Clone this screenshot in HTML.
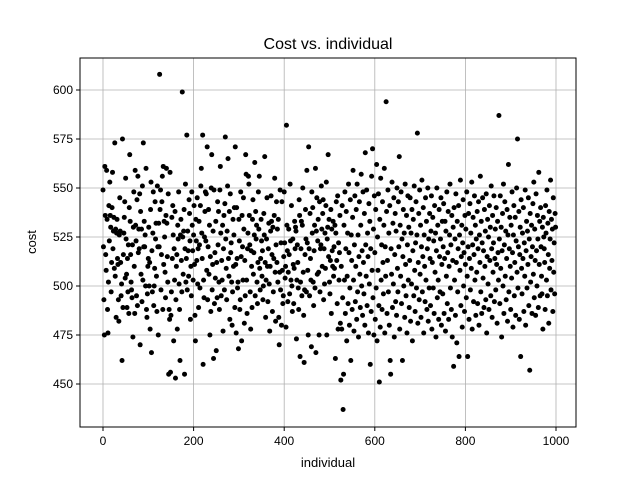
<!DOCTYPE html>
<html><head><meta charset="utf-8"><style>
html,body{margin:0;padding:0;background:#fff;}
svg{display:block;font-family:"Liberation Sans","DejaVu Sans",sans-serif;}
</style></head><body>
<svg id="chart" width="640" height="480" viewBox="0 0 640 480">
<rect width="640" height="480" fill="#fff"/>
<g id="grid"></g>
<g id="pts"></g>
<rect x="80" y="58" width="496" height="369" fill="none" stroke="#000" stroke-width="1"/>
<g id="axes"></g>
<text x="328" y="49" text-anchor="middle" font-size="16">Cost vs. individual</text>
<text x="328" y="467" text-anchor="middle" font-size="13">individual</text>
<text x="36" y="242" text-anchor="middle" font-size="13" transform="rotate(-90 36 242)">cost</text>
</svg>
<script>
const xTicks=[0,200,400,600,800,1000];
const yTicks=[450,475,500,525,550,575,600];
const costs=[
549,520,493,475,561,536,516,508,559,534,488,476,502,541,523,553,536,530,497,512,540,558,519,528,535,
509,573,505,529,484,527,534,514,511,493,482,526,545,528,512,495,501,462,575,489,516,527,535,543,504,
555,524,506,489,514,497,521,486,540,567,533,516,502,498,494,521,474,530,548,510,486,559,531,523,495,
544,490,556,517,529,519,547,470,538,506,529,492,551,503,573,520,533,520,526,500,560,488,484,496,510,
514,530,500,512,478,539,553,466,518,497,527,548,490,500,509,543,524,532,505,487,551,520,475,532,520,
608,539,549,498,516,543,556,488,561,511,533,525,507,494,536,560,532,515,502,547,455,488,483,558,456,
485,497,535,514,541,526,472,519,503,538,453,493,510,516,478,531,524,548,501,488,462,526,534,513,497,
599,525,506,528,539,455,519,552,502,514,577,498,528,518,505,544,537,523,483,510,495,548,531,518,503,
526,541,511,485,472,534,523,513,545,501,519,489,533,521,499,541,551,560,527,514,577,460,503,494,525,
538,548,523,547,508,571,493,520,539,506,531,475,515,487,550,567,498,511,528,463,549,491,517,504,533,
467,512,494,543,521,538,502,488,549,561,527,495,513,503,531,477,519,536,498,542,576,524,509,493,528,
551,565,514,505,538,483,547,517,522,502,480,497,534,510,526,540,489,571,511,476,540,514,499,502,468,
534,523,488,493,548,515,472,536,520,503,545,529,481,513,495,567,557,503,486,519,527,556,552,536,521,
497,478,518,510,489,534,544,506,517,526,563,495,538,524,531,502,491,512,548,529,556,509,498,514,534,
523,505,518,493,500,537,526,566,512,484,503,524,545,510,492,519,532,501,477,510,528,546,533,516,487,
530,497,514,536,555,507,482,521,543,512,529,502,534,484,470,507,549,498,522,480,543,508,491,495,515,
548,522,504,510,479,582,531,518,492,507,529,516,496,552,523,503,541,500,487,524,511,491,509,533,519,
530,528,473,503,521,512,499,488,544,536,464,502,519,533,495,531,550,507,485,461,498,516,539,524,497,
559,522,508,475,571,519,495,537,514,503,469,548,527,540,502,490,518,531,499,560,466,528,545,506,523,
534,507,475,543,497,519,521,551,529,510,537,544,493,519,501,527,509,541,553,475,524,530,567,515,534,
502,496,513,539,486,529,518,510,533,505,520,509,531,463,527,543,513,491,546,478,522,503,517,536,481,
452,510,478,541,494,437,455,531,503,548,486,519,538,472,505,527,491,552,517,480,499,544,462,526,513,
488,535,559,503,477,521,546,492,510,539,483,552,497,526,474,515,543,506,489,531,557,500,518,485,548,
512,496,537,480,568,521,505,549,490,527,515,476,542,501,533,460,519,487,556,508,570,494,529,475,546,
517,483,539,499,562,472,525,508,547,490,451,534,479,555,503,521,488,543,512,496,531,560,476,520,505,
594,538,486,513,549,497,527,480,541,462,455,519,506,553,489,532,501,545,474,516,537,492,528,485,550,
509,497,543,520,566,478,531,505,548,491,524,462,515,539,500,527,484,552,511,495,536,476,521,546,503,
530,489,513,545,482,527,501,539,472,518,534,495,551,508,487,522,543,499,526,578,481,512,537,493,549,
506,531,484,520,554,497,515,540,476,526,510,492,545,503,533,488,519,550,482,524,499,537,514,490,528,
546,478,512,535,499,523,486,541,507,527,474,518,550,494,531,503,483,539,515,497,524,545,480,511,533,
496,520,542,486,514,533,477,528,505,548,491,517,538,483,510,526,552,499,521,488,536,474,513,530,459,
540,503,524,485,547,512,471,533,497,519,541,464,526,508,554,490,515,531,479,522,544,500,517,487,536,
511,529,494,548,505,464,520,537,483,514,542,498,527,509,553,478,521,535,492,516,546,503,531,485,524,
507,538,491,519,543,480,526,512,556,497,533,486,522,545,504,518,489,539,510,528,493,547,476,515,534,
501,525,488,541,513,530,495,551,519,484,536,507,522,546,492,514,529,498,540,511,481,533,517,503,587,
524,491,546,509,530,474,518,537,500,552,486,521,543,505,528,493,514,539,482,526,562,497,519,535,510,
488,531,504,548,517,479,526,541,495,512,535,485,523,550,507,575,499,520,538,483,516,530,464,544,509,
496,527,514,540,487,522,505,549,480,518,533,499,528,511,545,490,524,457,537,502,515,531,486,520,542,
506,553,494,529,513,485,547,518,500,536,524,489,558,511,533,495,540,520,505,496,530,478,535,525,519,
512,488,541,527,503,549,495,532,516,481,538,509,524,554,498,534,513,529,487,545,507,522,496,537,530];
const X0=80,X1=576,Y0=58,Y1=427;
function sx(v){return 103+(v-0)*(556-103)/1000;}
function sy(v){return 90+(600-v)*(384-90)/150;}
const NS='http://www.w3.org/2000/svg';
const grid=document.getElementById('grid'),axes=document.getElementById('axes'),pts=document.getElementById('pts');
xTicks.forEach(t=>{
 const x=sx(t);
 const g=document.createElementNS(NS,'line');
 g.setAttribute('x1',x);g.setAttribute('x2',x);g.setAttribute('y1',Y0);g.setAttribute('y2',Y1);
 g.setAttribute('stroke','#b0b0b0');g.setAttribute('stroke-width','0.8');
 
 
 grid.appendChild(g);
 const tk=document.createElementNS(NS,'line');
 tk.setAttribute('x1',x);tk.setAttribute('x2',x);tk.setAttribute('y1',Y1);tk.setAttribute('y2',Y1+4);
 tk.setAttribute('stroke','#000');
 
 
 axes.appendChild(tk);
 const tx=document.createElementNS(NS,'text');
 tx.setAttribute('x',x);tx.setAttribute('y',Y1+18);tx.setAttribute('text-anchor','middle');tx.setAttribute('font-size','12');
 tx.textContent=t;
 
 
 axes.appendChild(tx);
});
yTicks.forEach(t=>{
 const y=sy(t);
 const g=document.createElementNS(NS,'line');
 g.setAttribute('x1',X0);g.setAttribute('x2',X1);g.setAttribute('y1',y);g.setAttribute('y2',y);
 g.setAttribute('stroke','#b0b0b0');g.setAttribute('stroke-width','0.8');
 
 
 grid.appendChild(g);
 const tk=document.createElementNS(NS,'line');
 tk.setAttribute('x1',X0-4);tk.setAttribute('x2',X0);tk.setAttribute('y1',y);tk.setAttribute('y2',y);
 tk.setAttribute('stroke','#000');
 
 
 axes.appendChild(tk);
 const tx=document.createElementNS(NS,'text');
 tx.setAttribute('x',X0-7);tx.setAttribute('y',y+4);tx.setAttribute('text-anchor','end');tx.setAttribute('font-size','12');
 tx.textContent=t;
 
 
 axes.appendChild(tx);
});
costs.forEach((c,i)=>{
 const p=document.createElementNS(NS,'circle');
 p.setAttribute('cx',sx(i));p.setAttribute('cy',sy(c));p.setAttribute('r','2.5');p.setAttribute('fill','#000');
 
 
 pts.appendChild(p);
});
</script>
</body></html>
